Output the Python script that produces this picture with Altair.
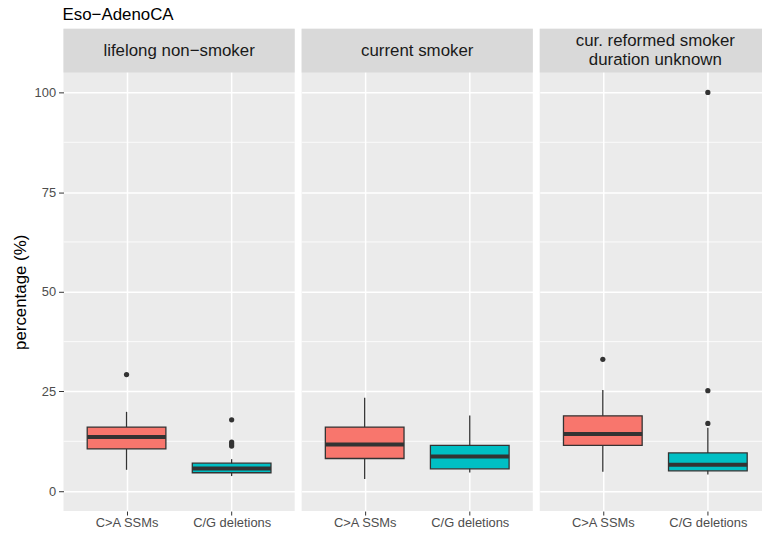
import altair as alt
import pandas as pd

# Panel labels (facet strips) and the two mutation classes on the x axis
panels = ["lifelong non−smoker", "current smoker", "cur. reformed smoker\nduration unknown"]
groups = ["C>A SSMs", "C/G deletions"]
fills = ["#F8766D", "#00BFC4"]

# Box statistics per panel, one value per group: [C>A SSMs, C/G deletions]
whisker_low = [[5.35, 3.78], [3.04, 4.70], [4.85, 4.20]]
q1 = [[10.58, 4.61], [8.19, 5.60], [11.50, 5.10]]
median = [[13.57, 5.70], [11.68, 8.69], [14.31, 6.60]]
q3 = [[16.06, 7.02], [16.06, 11.50], [18.90, 9.58]]
whisker_high = [[19.89, 8.02], [23.45, 19.00], [25.37, 15.90]]

# Outlying samples per panel and group
outliers = [
    [[29.25], [17.9, 12.3, 11.8, 11.3]],
    [[], []],
    [[33.08], [100.0, 25.19, 16.98]],
]

major_breaks = [0, 25, 50, 75, 100]
minor_breaks = [12.5, 37.5, 62.5, 87.5]

# Panel geometry: the last panel is clipped at the right edge, so its
# point scale is padded asymmetrically to keep the same category spacing.
PANEL_W = [233, 233, 224]
X_PADDING = [0.6, 0.6, 0.558]
X_ALIGN = [0.5, 0.5, 0.538]
FULL_W = 233
PLOT_H = 486
STRIP_H = 44
LINE_H = 18.6
Y_DOMAIN = [-5, 115.95]
INK = "#333333"
BOX_W = 79.3

yscale = alt.Scale(domain=Y_DOMAIN, nice=False, zero=False)
cscale = alt.Scale(domain=groups, range=fills)

x_axis = alt.Axis(
    title=None, labelFontSize=13, labelColor="#4D4D4D", tickColor=INK,
    tickSize=4, labelPadding=2, labelAngle=0, domain=False, grid=True,
    gridColor="white", gridWidth=1.5,
)


def y_axis(first):
    if first:
        return alt.Axis(
            values=major_breaks, title="percentage (%)", titleFontSize=17,
            titleFontWeight="normal", titleColor="black", titleX=-43,
            titleY=265, titleBaseline="middle", labelFontSize=13,
            labelColor="#4D4D4D", tickColor=INK, tickSize=5, labelPadding=3,
            domain=False, grid=True, gridColor="white", gridWidth=1.5,
        )
    return alt.Axis(
        values=major_breaks, title=None, labels=False, ticks=False,
        domain=False, grid=True, gridColor="white", gridWidth=1.5,
    )


charts = []
for i, label in enumerate(panels):
    w = PANEL_W[i]
    ax = y_axis(i == 0)
    xscale = alt.Scale(type="point", domain=groups, padding=X_PADDING[i], align=X_ALIGN[i])
    X = alt.X("group:N", scale=xscale, axis=x_axis)

    box = pd.DataFrame({
        "group": groups,
        "lo": whisker_low[i],
        "q1": q1[i],
        "med": median[i],
        "q3": q3[i],
        "hi": whisker_high[i],
    })
    out = pd.DataFrame(
        [{"group": g, "value": v} for g, vals in zip(groups, outliers[i]) for v in vals],
        columns=["group", "value"],
    )
    minor = pd.DataFrame({"v": minor_breaks})
    strip = pd.DataFrame({"label": [label]})
    n_lines = label.count("\n") + 1

    minor_grid = alt.Chart(minor).mark_rule(color="white", strokeWidth=0.8).encode(
        y=alt.Y("v:Q", scale=yscale, axis=ax)
    )
    whiskers = alt.Chart(box).mark_rule(color=INK, strokeWidth=1.3).encode(
        x=X, y=alt.Y("lo:Q", scale=yscale, axis=ax), y2="hi:Q"
    )
    boxes = alt.Chart(box).mark_bar(size=BOX_W, stroke=INK, strokeWidth=1.3).encode(
        x=X,
        y=alt.Y("q1:Q", scale=yscale, axis=ax),
        y2="q3:Q",
        color=alt.Color("group:N", scale=cscale, legend=None),
    )
    medians = alt.Chart(box).mark_tick(size=BOX_W, thickness=4, color=INK, opacity=1).encode(
        x=X, y=alt.Y("med:Q", scale=yscale, axis=ax)
    )
    points = alt.Chart(out).mark_circle(size=28, color=INK, opacity=1).encode(
        x=X, y=alt.Y("value:Q", scale=yscale, axis=ax)
    )
    strip_bg = alt.Chart(strip).mark_rect(color="#D9D9D9").encode(
        x=alt.value(0), x2=alt.value(w), y=alt.value(0), y2=alt.value(STRIP_H)
    )
    strip_txt = alt.Chart(strip).mark_text(
        fontSize=17, color="#1A1A1A", lineBreak="\n", lineHeight=LINE_H,
        baseline="middle", align="center",
    ).encode(
        x=alt.value(FULL_W / 2),
        y=alt.value(STRIP_H / 2 - (n_lines - 1) * LINE_H / 2),
        text="label:N",
    )

    panel = alt.layer(
        minor_grid, whiskers, boxes, medians, points, strip_bg, strip_txt
    ).properties(width=w, height=PLOT_H)
    charts.append(panel)

chart = (
    alt.hconcat(*charts, spacing=5)
    .properties(
        title=alt.Title(
            "Eso−AdenoCA", anchor="start", fontSize=17, fontWeight="normal",
            color="black", offset=4.5, dx=51,
        ),
        padding={"left": 12, "top": 4, "right": 0, "bottom": 0},
        background="white",
    )
    .configure(font="Liberation Sans")
    .configure_view(stroke=None, fill="#EBEBEB")
)

chart.save("out.html", embed_options={"renderer": "svg", "actions": False})
